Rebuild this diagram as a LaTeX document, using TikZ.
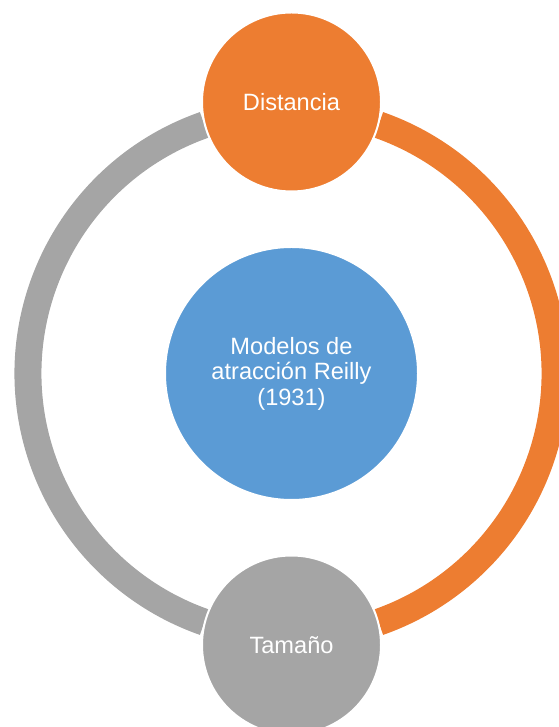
\documentclass[tikz,border=0pt]{standalone}
\usepackage[rgb]{xcolor}
\usepackage{fontspec}
\setmainfont{Liberation Sans}
\usepackage{tikz}

\definecolor{ringorange}{HTML}{ED7D31}
\definecolor{ringgray}{HTML}{A5A5A5}
\definecolor{ringblue}{HTML}{5B9BD5}

\begin{document}
\begin{tikzpicture}[x=0.75pt, y=0.75pt,
  bubble/.style={circle, fill=#1, draw=white, line width=1.5pt, text=white,
    align=center, inner sep=0pt, font={\fontsize{17.7}{19.2}\selectfont}},
  band/.style={draw=#1, line width=20.25pt}]

\useasboundingbox (0,0) rectangle (559,727);


% Ring centre
\coordinate (ring) at (291.5,353.5);


% Left band (gray)
\draw[band=ringgray] ([shift={(109.3:263.5)}]ring) arc[start angle=109.3, end angle=250.7, radius=263.5];

% Right band (orange)
\draw[band=ringorange] ([shift={(70.7:263.5)}]ring) arc[start angle=70.7, end angle=-70.7, radius=263.5];


% Centre circle
\path (ring) node[bubble=ringblue, minimum size=189.75pt] (model) {Modelos de\\atracción Reilly\\(1931)};


% Distancia circle
\path (291.5,625) node[bubble=ringorange, minimum size=134.25pt] (dist) {Distancia};

% Tamano circle
\path (291.5,82) node[bubble=ringgray, minimum size=134.25pt] (size) {Tamaño};


\end{tikzpicture}
\end{document}
